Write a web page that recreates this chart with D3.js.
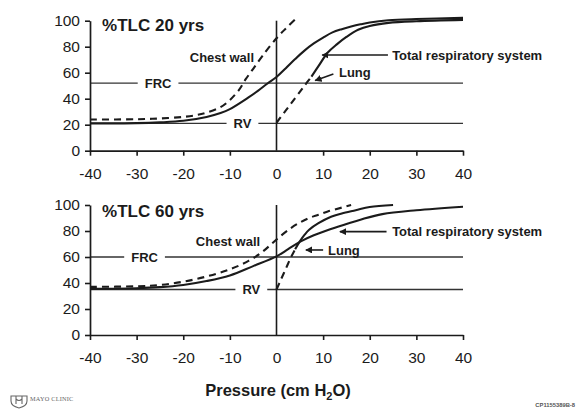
<!DOCTYPE html>
<html><head><meta charset="utf-8">
<script src="https://cdn.jsdelivr.net/npm/d3@7"></script>
<style>body{margin:0;background:#fff}svg{display:block}</style>
</head><body><svg id="c" width="576" height="409"></svg>
<script>
// ---------- data ----------
const pressureTicks = [-40, -30, -20, -10, 0, 10, 20, 30, 40];
const volumeTicks = [0, 20, 40, 60, 80, 100];
const panelTitles = ["%TLC 20 yrs", "%TLC 60 yrs"];
const frcValues = [52, 60];
const rvValues = [21, 35];

// 20 yrs: [pressure cmH2O, %TLC]
const chestWall20 = [[-40,24],[-30,24.2],[-25,24.8],[-20,26],[-17,27.5],[-15,29.3],[-12,33.5],[-10,39],[-8,47],[-6.6,55],[-5,63],[-3,73],[0,86.5],[2,94],[4,101]];
const total20 = [[-40,21],[-30,21.2],[-25,21.8],[-20,23],[-15,26],[-12,29],[-10,32],[-6,41],[-4,46],[-2,51.5],[0,56.7],[2,63.5],[4,70.5],[6,77],[8,82.5],[10,87],[12,91],[14,93.5],[16,95.5],[18,97.2],[20,98.6],[24,100.3],[30,101.3],[40,102.2]];
const lungDash20 = [[0,21.5],[2,31],[4,40.5],[6,50],[7.5,57]];
const lungSolid20 = [[7.5,57],[9,65],[11,75.5],[13,82],[15,87.5],[17.5,93],[20,96],[24,98.3],[30,99.6],[40,100.6]];

// 60 yrs
const chestWall60 = [[-40,37],[-30,37.5],[-25,38.5],[-20,41],[-15,45],[-10,50.5],[-6,57],[-3,64],[0,73.5],[3,82],[5,86.5],[7,90],[9,92.5],[11,95],[14,98],[16,100]];
const total60 = [[-40,35.5],[-30,36],[-25,36.8],[-20,38.5],[-15,41.5],[-10,45.8],[-5,53],[0,60.5],[2.5,66],[5.2,72],[8,76.7],[11.5,81.3],[15.5,86],[18,88.7],[22.7,93],[30,96],[40,98.7]];
const lungDash60 = [[0,35],[1,43],[2,51],[3,59],[4,66]];
const lungSolid60 = [[4,66],[5,72],[6,77],[7,81],[9,86],[11.7,91],[14,93.5],[17,96],[20,98.5],[25,100]];

const chestWallData = [chestWall20, chestWall60];
const totalData = [total20, total60];
const lungDashData = [lungDash20, lungDash60];
const lungSolidData = [lungSolid20, lungSolid60];

// ---------- layout (annotation positions in data units) ----------
const layout = [
  { yRange: [150.7, 20.7], title: [-37.4, 96.7], chest: [-18.6, 72.1],
    frcLabelP: -25.4, rvLabelP: -7.3,
    trsText: [24.8, 73.6], trsArrow: [[23.9, 73.6], [9.8, 73.6]],
    lungText: [13.4, 60.5], lungArrow: [[12.2, 59], [8.3, 54]] },
  { yRange: [335, 205], title: [-37.4, 95.6], chest: [-17.3, 71.8],
    frcLabelP: -28.3, rvLabelP: -5.4,
    trsText: [24.8, 79.5], trsArrow: [[23.6, 79.5], [13.6, 79.5]],
    lungText: [11.05, 65.4], lungArrow: [[10.0, 65.4], [6.3, 65.4]] }
];

const FONT = "'Liberation Sans', Arial, Helvetica, sans-serif";
const INK = "#1b1b1b";
const svg = d3.select("#c");

const defs = svg.append("defs");
defs.append("marker").attr("id", "arr").attr("viewBox", "0 0 10 10")
  .attr("refX", 9).attr("refY", 5).attr("markerWidth", 7).attr("markerHeight", 7)
  .attr("markerUnits", "userSpaceOnUse").attr("orient", "auto")
  .append("path").attr("d", "M0,0 L10,5 L0,10 Z").attr("fill", INK);

const x = d3.scaleLinear().domain([-40, 40]).range([90, 463]);

function drawPanel(i) {
  const L = layout[i];
  const y = d3.scaleLinear().domain([0, 100]).range(L.yRange);
  const g = svg.append("g");

  // reference lines with labels (FRC, RV)
  [[frcValues[i], "FRC", L.frcLabelP], [rvValues[i], "RV", L.rvLabelP]].forEach(([v, lab, p]) => {
    const t = g.append("text").attr("x", x(p)).attr("y", y(v)).attr("dy", "0.35em")
      .attr("text-anchor", "middle").attr("font-family", FONT).attr("font-size", 13)
      .attr("font-weight", "bold").attr("fill", INK).text(lab);
    const w = t.node().getComputedTextLength();
    const pad = 7;
    g.insert("line", "text").attr("x1", x(-40)).attr("x2", x(p) - w / 2 - pad)
      .attr("y1", y(v)).attr("y2", y(v)).attr("stroke", "#333").attr("stroke-width", 1.4);
    g.insert("line", "text").attr("x1", x(p) + w / 2 + pad).attr("x2", x(40))
      .attr("y1", y(v)).attr("y2", y(v)).attr("stroke", "#333").attr("stroke-width", 1.4);
  });

  // zero pressure line
  g.append("line").attr("x1", x(0)).attr("x2", x(0)).attr("y1", y(0)).attr("y2", y(100))
    .attr("stroke", INK).attr("stroke-width", 1.6);

  const line = d3.line().x(d => x(d[0])).y(d => y(d[1])).curve(d3.curveCatmullRom.alpha(0.5));
  const curve = (data, dash) => g.append("path").attr("d", line(data)).attr("fill", "none")
    .attr("stroke", INK).attr("stroke-width", 2.1).attr("stroke-dasharray", dash || null);

  curve(chestWallData[i], "7,5");
  curve(totalData[i]);
  curve(lungDashData[i], "7,5");
  curve(lungSolidData[i]);

  // axes
  const ax = g.append("g").attr("transform", `translate(0,${y(0)})`)
    .call(d3.axisBottom(x).tickValues(pressureTicks).tickSize(5).tickSizeOuter(0)
      .tickPadding(12).tickFormat(d => String(d)));
  const ay = g.append("g").attr("transform", `translate(${x(-40)},0)`)
    .call(d3.axisLeft(y).tickValues(volumeTicks).tickSize(5).tickSizeOuter(0)
      .tickPadding(5).tickFormat(d => String(d)));
  [ax, ay].forEach(a => {
    a.select(".domain").attr("stroke", INK).attr("stroke-width", 1.7);
    a.selectAll(".tick line").attr("stroke", INK).attr("stroke-width", 1.6);
    a.selectAll(".tick text").attr("font-family", FONT).attr("font-size", 15.5)
      .attr("fill", INK).attr("font-weight", 500);
  });
  ax.selectAll(".tick").filter(d => d === 0).select("line").remove();

  // labels
  const label = (pos, txt, size) => g.append("text").attr("x", x(pos[0])).attr("y", y(pos[1]))
    .attr("dy", "0.35em").attr("font-family", FONT).attr("font-size", size)
    .attr("font-weight", "bold").attr("fill", INK).text(txt);
  label(L.title, panelTitles[i], 17);
  label(L.chest, "Chest wall", 13);
  label(L.trsText, "Total respiratory system", 13);
  label(L.lungText, "Lung", 13);

  const arrow = (pts) => g.append("line")
    .attr("x1", x(pts[0][0])).attr("y1", y(pts[0][1]))
    .attr("x2", x(pts[1][0])).attr("y2", y(pts[1][1]))
    .attr("stroke", INK).attr("stroke-width", 1.6).attr("marker-end", "url(#arr)");
  arrow(L.trsArrow);
  arrow(L.lungArrow);
}

drawPanel(0);
drawPanel(1);

// axis title
const xt = svg.append("text").attr("x", 278).attr("y", 390).attr("dy", "0.35em")
  .attr("text-anchor", "middle").attr("font-family", FONT).attr("font-size", 16.5)
  .attr("font-weight", "bold").attr("fill", INK);
xt.append("tspan").text("Pressure (cm H");
xt.append("tspan").attr("font-size", 11).attr("dy", "4").text("2");
xt.append("tspan").attr("dy", "-4").text("O)");

// Mayo Clinic mark
const logo = svg.append("g").attr("transform", "translate(10,395)")
  .attr("fill", "none").attr("stroke", "#666").attr("stroke-width", 1.1);
logo.append("path").attr("d", "M1,1 L17,1 L17,6 Q17,11 9,13 Q1,11 1,6 Z");
logo.append("path").attr("d", "M6,1 L6,9 M12,1 L12,9 M6,4 Q9,7 12,4");
svg.append("text").attr("x", 30).attr("y", 401).attr("font-family", "'Liberation Serif', 'DejaVu Serif', serif")
  .attr("font-size", 6.3).attr("fill", "#666").attr("letter-spacing", 0.2).text("MAYO CLINIC");

svg.append("text").attr("x", 575).attr("y", 407).attr("text-anchor", "end")
  .attr("font-family", FONT).attr("font-size", 5.8).attr("font-weight", "bold")
  .attr("fill", "#555").text("CP1155389B-8");
</script></body></html>
